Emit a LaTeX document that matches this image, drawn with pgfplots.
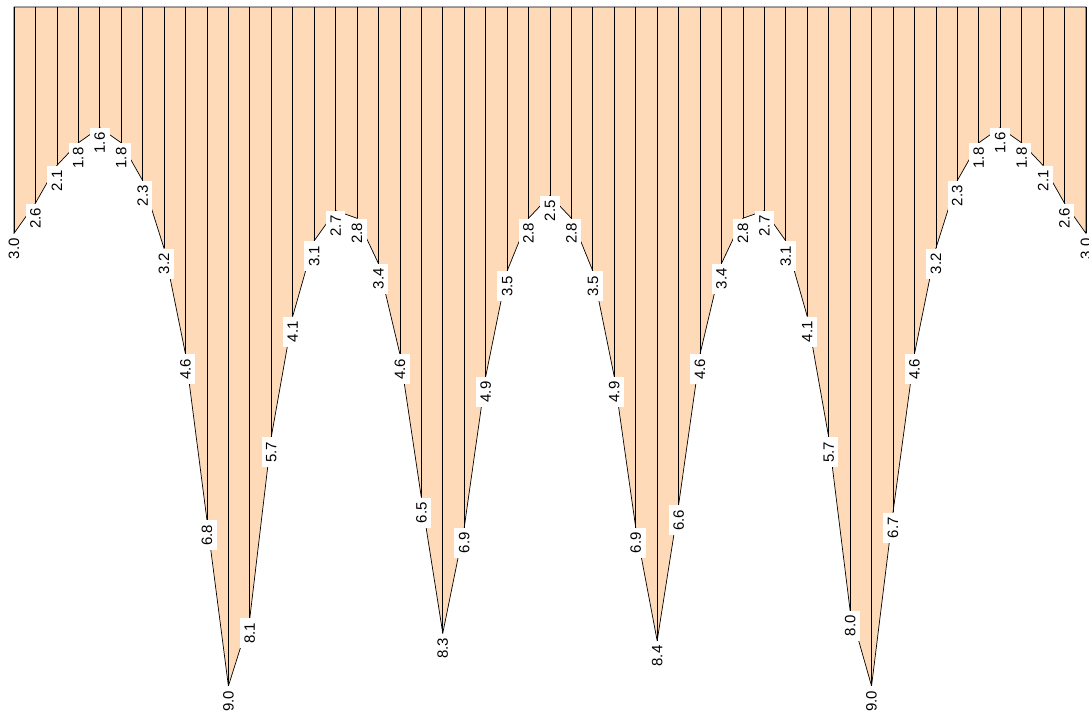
\documentclass[border=0pt]{standalone}
\usepackage{pgfplots}
\pgfplotsset{compat=1.18}
\usepackage{fontspec}
\setmainfont{Liberation Sans}
\definecolor{peach}{HTML}{FFDAB9}
\begin{document}
\begin{tikzpicture}
\path[use as bounding box] (-14pt,7pt) rectangle (1075pt,-707pt);
\begin{axis}[
  at={(0pt,0pt)}, anchor=north west,
  scale only axis, width=1072pt, height=679pt,
  xmin=0, xmax=50, ymin=0, ymax=9,
  y dir=reverse,
  axis lines=none,
  ticks=none,
  clip=false,
  /pgf/number format/assume math mode=true,
]
\addplot[draw=black, line width=0.7pt, fill=peach] coordinates {
(0,3.0) (1,2.6) (2,2.1) (3,1.8) (4,1.6) (5,1.8) (6,2.3) (7,3.2) (8,4.6) (9,6.8)
(10,9.0) (11,8.1) (12,5.7) (13,4.1) (14,3.1) (15,2.7) (16,2.8) (17,3.4) (18,4.6) (19,6.5)
(20,8.3) (21,6.9) (22,4.9) (23,3.5) (24,2.8) (25,2.5) (26,2.8) (27,3.5) (28,4.9) (29,6.9)
(30,8.4) (31,6.6) (32,4.6) (33,3.4) (34,2.8) (35,2.7) (36,3.1) (37,4.1) (38,5.7) (39,8.0)
(40,9.0) (41,6.7) (42,4.6) (43,3.2) (44,2.3) (45,1.8) (46,1.6) (47,1.8) (48,2.1) (49,2.6)
(50,3.0)
} \closedcycle;
\addplot[ycomb, draw=black, line width=0.7pt,
  nodes near coords,
  point meta=explicit,
  nodes near coords={\pgfmathprintnumber[fixed,fixed zerofill,precision=1,assume math mode=true]{\pgfplotspointmeta}},
  every node near coord/.style={rotate=90, anchor=east, fill=white, inner xsep=4.5pt, inner ysep=4.5pt, font=\fontsize{15}{18}\selectfont, text=black},
] coordinates {
(0,3.0) [3.0] (1,2.6) [2.6] (2,2.1) [2.1] (3,1.8) [1.8] (4,1.6) [1.6] (5,1.8) [1.8] (6,2.3) [2.3] (7,3.2) [3.2] (8,4.6) [4.6] (9,6.8) [6.8]
(10,9.0) [9.0] (11,8.1) [8.1] (12,5.7) [5.7] (13,4.1) [4.1] (14,3.1) [3.1] (15,2.7) [2.7] (16,2.8) [2.8] (17,3.4) [3.4] (18,4.6) [4.6] (19,6.5) [6.5]
(20,8.3) [8.3] (21,6.9) [6.9] (22,4.9) [4.9] (23,3.5) [3.5] (24,2.8) [2.8] (25,2.5) [2.5] (26,2.8) [2.8] (27,3.5) [3.5] (28,4.9) [4.9] (29,6.9) [6.9]
(30,8.4) [8.4] (31,6.6) [6.6] (32,4.6) [4.6] (33,3.4) [3.4] (34,2.8) [2.8] (35,2.7) [2.7] (36,3.1) [3.1] (37,4.1) [4.1] (38,5.7) [5.7] (39,8.0) [8.0]
(40,9.0) [9.0] (41,6.7) [6.7] (42,4.6) [4.6] (43,3.2) [3.2] (44,2.3) [2.3] (45,1.8) [1.8] (46,1.6) [1.6] (47,1.8) [1.8] (48,2.1) [2.1] (49,2.6) [2.6]
(50,3.0) [3.0]
};
\end{axis}
\end{tikzpicture}
\end{document}
